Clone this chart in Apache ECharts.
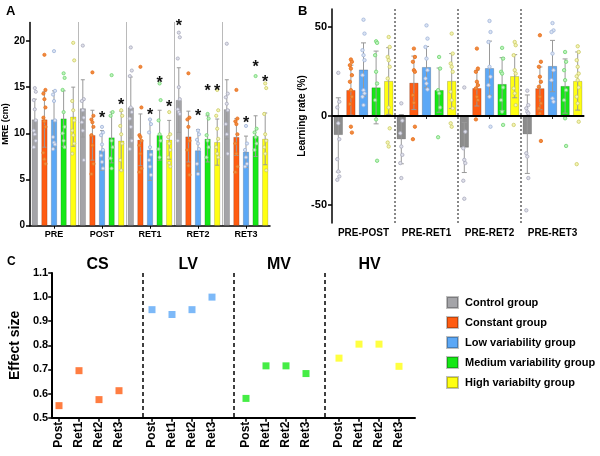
<!DOCTYPE html>
<html><head><meta charset="utf-8">
<script src="https://cdn.jsdelivr.net/npm/echarts@6/dist/echarts.min.js"></script>
<style>html,body{margin:0;padding:0;background:#fff}#c{width:600px;height:456px}</style>
</head><body><div id="c"></div>
<script>
const FONT = '"Liberation Sans", Arial, Helvetica, sans-serif';

const groupNames = ['Control group','Constant group','Low variability group','Medium variability group','High variabilty group'];
const catsA = ['PRE','POST','RET1','RET2','RET3'];
const catsB = ['PRE-POST','PRE-RET1','PRE-RET2','PRE-RET3'];
const catsC = ['Post','Ret1','Ret2','Ret3'];
const panelsC = ['CS','LV','MV','HV'];
const ticksA = [0,5,10,15,20];
const ticksB = [-50,0,50];

// Panel A: MRE (cm) means and SD
const meanA_control  = [11.5, 12.7, 12.8, 13.6, 12.6];
const meanA_constant = [11.5, 9.8, 9.3, 9.65, 9.6];
const meanA_low      = [11.5, 8.15, 8.2, 8.15, 8.0];
const meanA_medium   = [11.6, 9.55, 9.8, 9.4, 9.7];
const meanA_high     = [11.8, 9.2, 9.3, 9.05, 9.4];
const sdA_control  = [2.2, 3.1, 3.3, 3.5, 3.2];
const sdA_constant = [3.0, 2.7, 2.8, 2.75, 2.0];
const sdA_low      = [3.1, 2.15, 3.3, 2.25, 1.7];
const sdA_medium   = [3.0, 2.75, 2.7, 2.5, 2.2];
const sdA_high     = [3.2, 3.2, 2.1, 2.5, 2.8];
const starsA_control  = [null, null, null, 22.0, null];
const starsA_constant = [null, null, null, null, null];
const starsA_low      = [null, 12.0, 12.3, 12.2, 11.5];
const starsA_medium   = [null, null, 15.8, 14.9, 17.6];
const starsA_high     = [null, 13.4, 13.2, 14.9, 15.9];
const dotsA_control = [
  [14.9,14.5,13.6,12.6,11.4,10.3,9.9,9.2,8.5],
  [19.5,13.7,13.5,12.5,11.7,11.2,10.3,7.1],
  [19.3,16.8,16.2,12.8,12.3,11.6,10.7,9.2,8.3],
  [20.9,20.4,18.1,15.0,13.7,12.6,12.3,12.1,9.2],
  [19.7,14.3,13.9,13.2,12.5,11.0,9.9,7.8]
];
const dotsA_constant = [
  [18.5,14.7,14.3,13.7,12.8,11.7,11.3,10.7,7.9,7.2,6.7],
  [16.6,11.9,11.5,11.2,10.7,9.8,8.7,6.7,5.6],
  [17.2,12.8,9.8,9.6,9.2,8.7,7.8,6.2,5.8],
  [16.5,11.7,11.5,10.7,9.2,8.2,6.5,5.5],
  [14.7,11.6,11.3,11.0,9.9,8.9,7.8,6.4,5.8]
];
const dotsA_low = [
  [18.9,14.6,14.2,13.5,11.4,9.6,9.0,8.8,8.3],
  [10.7,10.1,9.8,8.8,8.2,7.6,6.9,6.2],
  [11.5,11.0,10.1,8.5,7.7,7.1,6.4,5.5],
  [10.3,9.9,9.3,8.9,8.3,6.7,5.6],
  [10.8,8.9,8.2,7.4,6.7,6.4]
];
const dotsA_medium = [
  [16.5,16.0,14.7,12.3,10.7,10.0,9.2,8.5],
  [16.3,12.3,11.9,9.2,8.5,7.3,6.2],
  [15.4,13.6,11.4,9.9,9.2,8.3,7.4],
  [12.1,11.6,9.8,9.2,8.5,7.4],
  [16.2,10.5,10.1,9.6,8.9,8.2]
];
const dotsA_high = [
  [19.8,17.9,13.5,12.5,11.4,10.3,9.8,8.9,7.8],
  [12.5,11.9,10.8,9.9,8.9,7.1,6.0],
  [12.3,9.9,9.6,8.9,8.2,7.4,6.8,6.4],
  [14.7,12.5,11.9,10.5,9.4,8.5,7.8,7.4],
  [15.4,14.9,12.1,9.9,9.2,8.5,7.8,6.0]
];

// Panel B: learning rate (%) means and SD
const meanB_control  = [-10.6, -13.0, -17.7, -10.2];
const meanB_constant = [14.5, 18.6, 15.6, 15.5];
const meanB_low      = [26.0, 27.4, 26.8, 28.0];
const meanB_medium   = [16.0, 14.5, 17.9, 16.8];
const meanB_high     = [19.6, 19.6, 22.3, 19.6];
const sdB_control  = [20.8, 13.8, 14.0, 22.0];
const sdB_constant = [14.0, 15.0, 10.0, 12.0];
const sdB_low      = [15.0, 11.6, 15.2, 14.4];
const sdB_medium   = [20.4, 12.4, 14.8, 15.2];
const sdB_high     = [18.7, 15.4, 12.1, 16.3];
const dotsB_control = [
  [24.2,8.0,4.8,-4.1,-13,-24.2,-31.1,-33.9,-35.8],
  [7.1,-2.6,-9.7,-17.1,-21.8,-26.4,-34.8],
  [16,-8.8,-18.1,-24.6,-26.4,-36.3,-46.4],
  [14.2,6.1,4.3,2.4,1.5,-20.9,-22.7,-34.8,-52.9]
];
const dotsB_constant = [
  [31.7,30.4,28.5,26.6,22.9,19.2,14.5,10.8,6.7,-6.0,-9.3],
  [37.8,33.1,30.4,25.7,24.8,11.7,7.4,-6,-13],
  [37.8,26.6,24.8,19.2,17.3,15.5,10.8,8.9,-1.9],
  [45.3,30.4,27.6,22,19.2,16.4,10.8,7.1,4.3,1.5,-14]
];
const dotsB_low = [
  [54,46.2,36.9,34.1,31.3,22.9,14.5,12.7,10.8,6.1],
  [50.8,43.4,38.7,32.2,25.7,21,18.2,14.9],
  [53.3,47.1,41.5,27.6,22,17.3,10.8,-6],
  [52.1,48,47.1,35,25.7,20.1,9.9,8]
];
const dotsB_medium = [
  [41.9,41,34.1,24.8,18.2,8.9,-1.9,-25.1],
  [33.1,26.6,14.5,12.7,4.8,-11.9],
  [38.2,32.2,24.8,23.8,16,8.9,2.4,-5],
  [35.9,30.4,25.7,20.1,14.5,8.9,-1.3,-16.8]
];
const dotsB_high = [
  [44.3,38.7,33.1,31.3,27.6,21,4.8,-6.9,-14.9,-17.1],
  [46.2,35,29.4,27.6,24.8,13.6,8.9,4.3,-4.1,-6],
  [41.5,39.7,34.1,25.7,23.8,15.5,12.7,6.1,-5],
  [39.1,35.9,31.3,27.6,23.8,22.3,20.1,16,10.8,7.1,-3.2,-27]
];

// Panel C: effect size
const effectCS = [0.55, 0.695, 0.575, 0.612];
const effectLV = [0.948, 0.928, 0.948, 1.0];
const effectMV = [0.58, 0.715, 0.715, 0.683];
const effectHV = [0.747, 0.805, 0.805, 0.713];

// ---- styling ----
const barColorsA = ['#a4a4a8','#ff5c12','#5ca8f6','#16e816','#ffff12'];
const barColorsB = ['#8c8c8c','#ff5c12','#5ca8f6','#16e816','#ffff12'];
const dotStyles = [
  ['#a9abbd','#dfe0ea'],
  ['#e8701a','#f08a40'],
  ['#9fb4d8','#dbe4f4'],
  ['#6ed46e','#bdf2bd'],
  ['#cccc66','#f4f4b4']
];
const colorsC = ['#ff5c12','#5ca8f6','#16e816','#ffff12'];

const meansA = [meanA_control, meanA_constant, meanA_low, meanA_medium, meanA_high];
const sdsA = [sdA_control, sdA_constant, sdA_low, sdA_medium, sdA_high];
const starsA = [starsA_control, starsA_constant, starsA_low, starsA_medium, starsA_high];
const dotsA = [dotsA_control, dotsA_constant, dotsA_low, dotsA_medium, dotsA_high];
const meansB = [meanB_control, meanB_constant, meanB_low, meanB_medium, meanB_high];
const sdsB = [sdB_control, sdB_constant, sdB_low, sdB_medium, sdB_high];
const dotsB = [dotsB_control, dotsB_constant, dotsB_low, dotsB_medium, dotsB_high];
const effects = [effectCS, effectLV, effectMV, effectHV];

const SPACING_A = 9.6, SPACING_B = 12.6;

function errData(means, sds) {
  const out = [];
  means.forEach((arr, s) => arr.forEach((m, c) => out.push([c, m, sds[s][c], s])));
  return out;
}
function dotData(dots) {
  const out = [];
  dots.forEach((perCat, s) => perCat.forEach((vals, c) => vals.forEach((v, k) => out.push([c, v, s, k]))));
  return out;
}
function starData(stars) {
  const out = [];
  stars.forEach((arr, s) => arr.forEach((v, c) => { if (v != null) out.push([c, v, s]); }));
  return out;
}
function errRender(spacing, capW) {
  return function (params, api) {
    const c = api.value(0), m = api.value(1), sd = api.value(2), s = api.value(3);
    const p1 = api.coord([c, m + sd]), p2 = api.coord([c, m - sd]);
    const x = p1[0] + (s - 2) * spacing;
    const st = { stroke: '#999', lineWidth: 1 };
    return { type: 'group', children: [
      { type: 'line', shape: { x1: x, y1: p1[1], x2: x, y2: p2[1] }, style: st },
      { type: 'line', shape: { x1: x - capW / 2, y1: p1[1], x2: x + capW / 2, y2: p1[1] }, style: st },
      { type: 'line', shape: { x1: x - capW / 2, y1: p2[1], x2: x + capW / 2, y2: p2[1] }, style: st }
    ]};
  };
}
function dotRender(spacing, r) {
  return function (params, api) {
    const c = api.value(0), v = api.value(1), s = api.value(2), k = api.value(3);
    const p = api.coord([c, v]);
    const jit = (k % 3 === 0) ? 0 : (k % 3 === 1 ? 1 : -1);
    const ds = dotStyles[s];
    return { type: 'circle', shape: { cx: p[0] + (s - 2) * spacing + jit, cy: p[1], r: r },
      style: { fill: ds[1], stroke: ds[0], lineWidth: 0.8 } };
  };
}
function starRender(spacing) {
  return function (params, api) {
    const c = api.value(0), v = api.value(1), s = api.value(2);
    const p = api.coord([c, v]);
    return { type: 'text', x: p[0] + (s - 2) * spacing, y: p[1] + 4,
      style: { text: '*', fill: '#111', font: 'bold 16px ' + FONT, align: 'center', verticalAlign: 'middle' } };
  };
}

const axisLineBlack = { show: true, lineStyle: { color: '#000', width: 1.5 } };
const tickBlack = { show: true, length: 4, lineStyle: { color: '#000', width: 1.5 } };
const lbl = (size) => ({ color: '#000', fontFamily: FONT, fontWeight: 'bold', fontSize: size });

const series = [];
// Panel A bars
groupNames.forEach((name, s) => {
  series.push({ type: 'bar', name: name, xAxisIndex: 0, yAxisIndex: 0, data: meansA[s],
    barWidth: 6, barGap: '60%', z: 2,
    itemStyle: { color: barColorsA[s], borderColor: 'rgba(0,0,0,0.25)', borderWidth: 0.6 } });
});
series.push({ type: 'custom', xAxisIndex: 0, yAxisIndex: 0, z: 3, silent: true,
  renderItem: errRender(SPACING_A, 4), data: errData(meansA, sdsA), encode: { x: 0, y: 1 } });
series.push({ type: 'custom', xAxisIndex: 0, yAxisIndex: 0, z: 4, silent: true,
  renderItem: dotRender(SPACING_A, 1.6), data: dotData(dotsA), encode: { x: 0, y: 1 } });
series.push({ type: 'custom', xAxisIndex: 0, yAxisIndex: 0, z: 5, silent: true, clip: false,
  renderItem: starRender(SPACING_A), data: starData(starsA), encode: { x: 0, y: 1 } });

// Panel B bars
groupNames.forEach((name, s) => {
  const sr = { type: 'bar', name: name, xAxisIndex: 1, yAxisIndex: 1, data: meansB[s],
    barWidth: 9, barGap: '40%', z: 2,
    itemStyle: { color: barColorsB[s], borderColor: 'rgba(0,0,0,0.3)', borderWidth: 0.6 } };
  if (s === 0) {
    sr.markLine = { silent: true, symbol: 'none', z: 6, label: { show: false },
      lineStyle: { color: '#000', width: 2, type: 'solid' }, data: [{ yAxis: 0 }] };
  }
  series.push(sr);
});
series.push({ type: 'custom', xAxisIndex: 1, yAxisIndex: 1, z: 3, silent: true,
  renderItem: errRender(SPACING_B, 5), data: errData(meansB, sdsB), encode: { x: 0, y: 1 } });
series.push({ type: 'custom', xAxisIndex: 1, yAxisIndex: 1, z: 4, silent: true,
  renderItem: dotRender(SPACING_B, 1.7), data: dotData(dotsB), encode: { x: 0, y: 1 } });

// Panel C points
effects.forEach((arr, g) => {
  series.push({ type: 'scatter', xAxisIndex: 4 + g, yAxisIndex: 3 + g, data: arr,
    symbol: 'rect', symbolSize: 7, itemStyle: { color: colorsC[g] }, z: 4, silent: true });
});

const cTop = 273, cHeight = 144.7;
const subLefts = [49, 142, 236, 329];

const grids = [
  { left: 29, top: 22.5, width: 241, height: 203.2 },
  { left: 332, top: 9, width: 252, height: 214 },
  { left: 45, top: cTop, width: 370, height: cHeight }
];
subLefts.forEach(l => grids.push({ left: l, top: cTop, width: 80, height: cHeight }));

const xAxes = [
  { type: 'category', gridIndex: 0, data: catsA, axisLine: axisLineBlack,
    axisTick: { show: true, alignWithLabel: true, interval: 0, length: 3, lineStyle: { color: '#000' } },
    axisLabel: Object.assign(lbl(9), { margin: 4, interval: 0 }),
    splitLine: { show: true, interval: 0, showMinLine: false, showMaxLine: false,
      lineStyle: { color: '#777', type: 'dotted', width: 1 } } },
  { type: 'category', gridIndex: 1, data: catsB, axisLine: { show: true, lineStyle: { color: '#333', width: 1.5 } },
    axisTick: { show: true, alignWithLabel: true, interval: 0, length: 3, lineStyle: { color: '#333' } },
    axisLabel: Object.assign(lbl(10), { margin: 5, interval: 0 }),
    splitLine: { show: true, interval: 0, showMinLine: false, showMaxLine: false,
      lineStyle: { color: '#888', type: 'dotted', width: 2 } } },
  { type: 'category', gridIndex: 2, data: panelsC, position: 'bottom',
    axisLine: { show: true, lineStyle: { color: '#000', width: 2 } },
    axisTick: { show: false }, axisLabel: { show: false },
    splitLine: { show: true, interval: 0, showMinLine: false, showMaxLine: false,
      lineStyle: { color: '#000', type: [4, 3], width: 1.5 } } },
  { type: 'category', gridIndex: 2, data: panelsC, position: 'top',
    axisLine: { show: false }, axisTick: { show: false },
    axisLabel: Object.assign(lbl(16), { margin: 0, interval: 0 }), splitLine: { show: false } }
];
subLefts.forEach((l, g) => xAxes.push({
  type: 'category', gridIndex: 3 + g, data: catsC, axisLine: { show: false },
  axisTick: { show: true, alignWithLabel: true, interval: 0, length: 4, lineStyle: { color: '#000', width: 1.5 } },
  axisLabel: Object.assign(lbl(12), { rotate: 90, margin: 4, interval: 0 }), splitLine: { show: false }
}));

const yAxes = [
  { type: 'value', gridIndex: 0, min: 0, max: 22, axisLine: axisLineBlack,
    axisTick: Object.assign({}, tickBlack, { customValues: ticksA }),
    axisLabel: Object.assign(lbl(10), { customValues: ticksA, margin: 5 }),
    splitLine: { show: false },
    name: 'MRE (cm)', nameLocation: 'middle', nameGap: 18, nameTextStyle: lbl(9) },
  { type: 'value', gridIndex: 1, min: -60, max: 60, axisLine: axisLineBlack,
    axisTick: Object.assign({}, tickBlack, { customValues: ticksB }),
    axisLabel: Object.assign(lbl(11), { customValues: ticksB, margin: 5 }),
    splitLine: { show: false },
    name: 'Learning rate (%)', nameLocation: 'middle', nameGap: 24, nameTextStyle: lbl(10) },
  { type: 'value', gridIndex: 2, min: 0.5, max: 1.1, interval: 0.1,
    axisLine: { show: true, lineStyle: { color: '#000', width: 2 } },
    axisTick: { show: true, length: 4, lineStyle: { color: '#000', width: 1.5 } },
    axisLabel: Object.assign(lbl(11), { margin: 4, formatter: v => v.toFixed(1) }),
    splitLine: { show: false },
    name: 'Effect size', nameLocation: 'middle', nameGap: 27, nameTextStyle: lbl(14) }
];
subLefts.forEach((l, g) => yAxes.push({
  type: 'value', gridIndex: 3 + g, min: 0.5, max: 1.1, show: false, splitLine: { show: false }
}));

const option = {
  animation: false,
  backgroundColor: '#fff',
  textStyle: { fontFamily: FONT },
  grid: grids,
  xAxis: xAxes,
  yAxis: yAxes,
  legend: {
    data: groupNames, orient: 'vertical', left: 441, top: 291, selectedMode: false,
    icon: 'rect', itemWidth: 11, itemHeight: 11, itemGap: 7,
    textStyle: Object.assign(lbl(11), { padding: [0, 0, 0, 2] })
  },
  graphic: [
    { type: 'text', left: 6, top: 5, style: { text: 'A', font: 'bold 13px ' + FONT, fill: '#000' } },
    { type: 'text', left: 298, top: 5, style: { text: 'B', font: 'bold 13px ' + FONT, fill: '#000' } },
    { type: 'text', left: 7, top: 256, style: { text: 'C', font: 'bold 12px ' + FONT, fill: '#000' } }
  ],
  series: series
};

const chart = echarts.init(document.getElementById('c'), null, { renderer: 'canvas' });
chart.setOption(option);
</script>
</body></html>
